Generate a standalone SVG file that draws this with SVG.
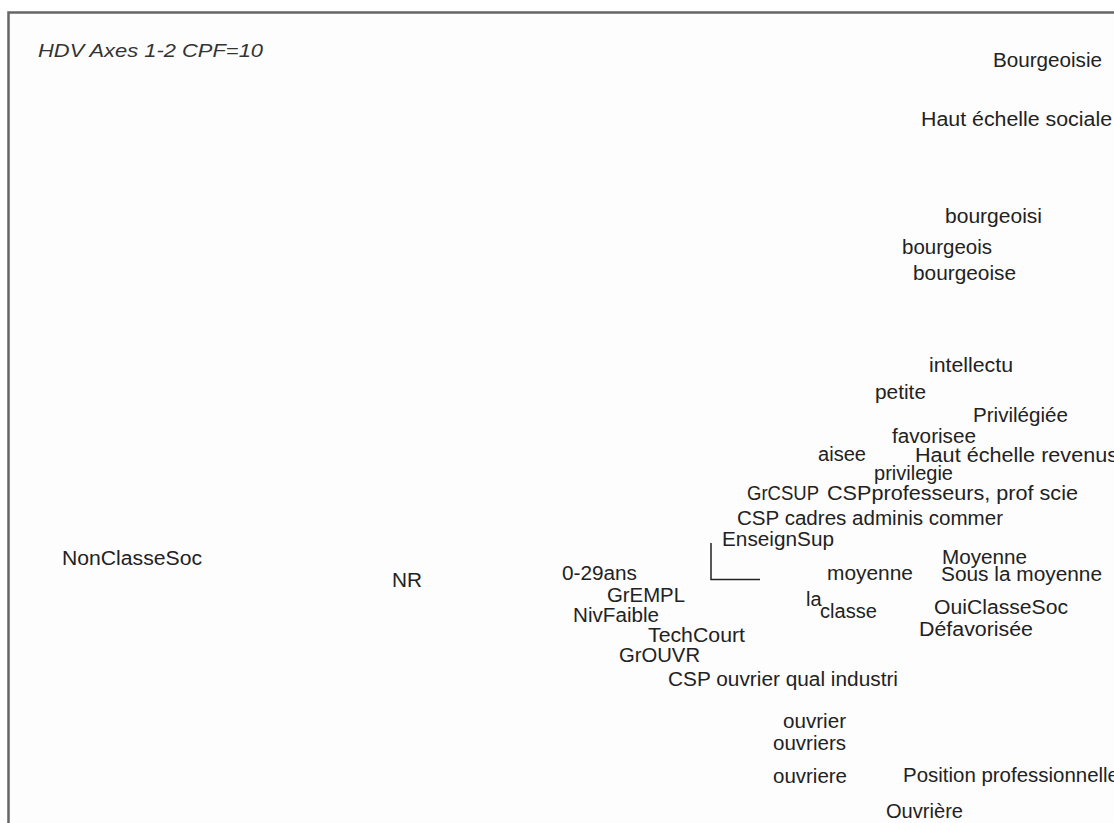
<svg xmlns="http://www.w3.org/2000/svg" width="1114" height="823" viewBox="0 0 1114 823">
<style>
.lbl{font-family:"Liberation Sans",Arial,sans-serif;font-size:20px;fill:#222}
.ttl{font-family:"Liberation Sans",Arial,sans-serif;font-size:19px;font-style:italic;fill:#333}
.ax{stroke:#222;stroke-width:1.5;fill:none}
</style>
<rect x="0" y="0" width="1114" height="823" fill="#ffffff"/>
<rect x="9" y="13" width="1105" height="810" fill="#fdfdfd"/>
<path d="M8.5 823 V12.5 H1114" fill="none" stroke="#666" stroke-width="2.5"/>
<g id="title"><text class="ttl" x="38" y="57" textLength="225" lengthAdjust="spacingAndGlyphs">HDV Axes 1-2 CPF=10</text></g>
<g id="axes">
<path class="ax" d="M711 543 V579.5 H760"/>
</g>
<g id="n-bourgeoisie"><text class="lbl" x="993" y="67" textLength="109" lengthAdjust="spacingAndGlyphs">Bourgeoisie</text></g>
<g id="n-haut-sociale"><text class="lbl" x="921" y="126" textLength="191" lengthAdjust="spacingAndGlyphs">Haut échelle sociale</text></g>
<g id="n-bourgeoisi"><text class="lbl" x="945" y="223" textLength="97" lengthAdjust="spacingAndGlyphs">bourgeoisi</text></g>
<g id="n-bourgeois"><text class="lbl" x="902" y="254" textLength="90" lengthAdjust="spacingAndGlyphs">bourgeois</text></g>
<g id="n-bourgeoise"><text class="lbl" x="913" y="280" textLength="103" lengthAdjust="spacingAndGlyphs">bourgeoise</text></g>
<g id="n-intellectu"><text class="lbl" x="929" y="372" textLength="84" lengthAdjust="spacingAndGlyphs">intellectu</text></g>
<g id="n-petite"><text class="lbl" x="875" y="399" textLength="51" lengthAdjust="spacingAndGlyphs">petite</text></g>
<g id="n-privilegiee"><text class="lbl" x="973" y="422" textLength="95" lengthAdjust="spacingAndGlyphs">Privilégiée</text></g>
<g id="n-favorisee"><text class="lbl" x="892" y="443" textLength="84" lengthAdjust="spacingAndGlyphs">favorisee</text></g>
<g id="n-haut-revenus"><text class="lbl" x="915" y="462" textLength="203" lengthAdjust="spacingAndGlyphs">Haut échelle revenus</text></g>
<g id="n-aisee"><text class="lbl" x="818" y="461" textLength="48" lengthAdjust="spacingAndGlyphs">aisee</text></g>
<g id="n-privilegie"><text class="lbl" x="874" y="480" textLength="79" lengthAdjust="spacingAndGlyphs">privilegie</text></g>
<g id="n-grcsup"><text class="lbl" x="747" y="500" textLength="72" lengthAdjust="spacingAndGlyphs">GrCSUP</text></g>
<g id="n-csp-prof"><text class="lbl" x="827" y="500" textLength="251" lengthAdjust="spacingAndGlyphs">CSPprofesseurs, prof scie</text></g>
<g id="n-csp-cadres"><text class="lbl" x="737" y="525" textLength="266" lengthAdjust="spacingAndGlyphs">CSP cadres adminis commer</text></g>
<g id="n-enseignsup"><text class="lbl" x="722" y="546" textLength="112" lengthAdjust="spacingAndGlyphs">EnseignSup</text></g>
<g id="n-Moyenne"><text class="lbl" x="942" y="564" textLength="85" lengthAdjust="spacingAndGlyphs">Moyenne</text></g>
<g id="n-moyenne"><text class="lbl" x="827" y="580" textLength="86" lengthAdjust="spacingAndGlyphs">moyenne</text></g>
<g id="n-sous-moyenne"><text class="lbl" x="941" y="581" textLength="161" lengthAdjust="spacingAndGlyphs">Sous la moyenne</text></g>
<g id="n-nonclassesoc"><text class="lbl" x="62" y="565" textLength="140" lengthAdjust="spacingAndGlyphs">NonClasseSoc</text></g>
<g id="n-nr"><text class="lbl" x="392" y="587" textLength="30" lengthAdjust="spacingAndGlyphs">NR</text></g>
<g id="n-0-29ans"><text class="lbl" x="562" y="580" textLength="75" lengthAdjust="spacingAndGlyphs">0-29ans</text></g>
<g id="n-grempl"><text class="lbl" x="607" y="602" textLength="78" lengthAdjust="spacingAndGlyphs">GrEMPL</text></g>
<g id="n-nivfaible"><text class="lbl" x="573" y="622" textLength="86" lengthAdjust="spacingAndGlyphs">NivFaible</text></g>
<g id="n-techcourt"><text class="lbl" x="648" y="642" textLength="97" lengthAdjust="spacingAndGlyphs">TechCourt</text></g>
<g id="n-grouvr"><text class="lbl" x="619" y="662" textLength="81" lengthAdjust="spacingAndGlyphs">GrOUVR</text></g>
<g id="n-csp-ouvrier"><text class="lbl" x="668" y="686" textLength="230" lengthAdjust="spacingAndGlyphs">CSP ouvrier qual industri</text></g>
<g id="n-la"><text class="lbl" x="806" y="606">la</text></g>
<g id="n-classe"><text class="lbl" x="820" y="618" textLength="57" lengthAdjust="spacingAndGlyphs">classe</text></g>
<g id="n-ouiclassesoc"><text class="lbl" x="934" y="614" textLength="134" lengthAdjust="spacingAndGlyphs">OuiClasseSoc</text></g>
<g id="n-defavorisee"><text class="lbl" x="919" y="636" textLength="114" lengthAdjust="spacingAndGlyphs">Défavorisée</text></g>
<g id="n-ouvrier"><text class="lbl" x="783" y="728" textLength="63" lengthAdjust="spacingAndGlyphs">ouvrier</text></g>
<g id="n-ouvriers"><text class="lbl" x="773" y="750" textLength="73" lengthAdjust="spacingAndGlyphs">ouvriers</text></g>
<g id="n-ouvriere"><text class="lbl" x="773" y="783" textLength="74" lengthAdjust="spacingAndGlyphs">ouvriere</text></g>
<g id="n-position"><text class="lbl" x="903" y="782" textLength="216" lengthAdjust="spacingAndGlyphs">Position professionnelle</text></g>
<g id="n-ouvriere-cap"><text class="lbl" x="886" y="818" textLength="77" lengthAdjust="spacingAndGlyphs">Ouvrière</text></g>
</svg>
